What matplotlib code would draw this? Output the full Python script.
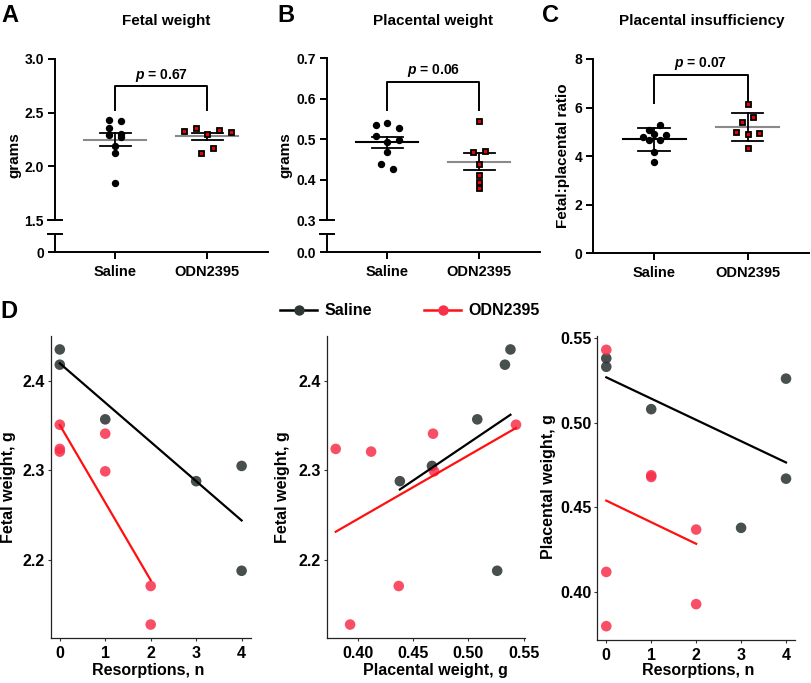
import numpy as np
import matplotlib
matplotlib.use("Agg")
import matplotlib.pyplot as plt
import matplotlib.transforms as mtransforms
from matplotlib.lines import Line2D

# ---------------- data ----------------
groups = ["Saline", "ODN2395"]
fetal_saline = [2.432, 2.420, 2.357, 2.289, 2.270, 2.304, 2.192, 2.124, 1.842]
fetal_odn = [2.329, 2.354, 2.301, 2.341, 2.323, 2.127, 2.171]
plac_saline = [0.534, 0.539, 0.527, 0.508, 0.494, 0.498, 0.468, 0.439, 0.425]
plac_odn = [0.544, 0.469, 0.470, 0.438, 0.411, 0.395, 0.380]
ratio_saline = [5.07, 5.27, 4.77, 4.93, 4.87, 4.66, 4.66, 4.18, 3.77]
ratio_odn = [6.16, 5.41, 5.61, 5.00, 4.90, 4.96, 4.32]
p_values = ["0.67", "0.06", "0.07"]

sal_resorptions = [0, 0, 1, 3, 4, 4]
sal_fetal = [2.435, 2.418, 2.357, 2.288, 2.305, 2.188]
sal_placental = [0.538, 0.533, 0.508, 0.438, 0.467, 0.526]
odn_resorptions = [0, 0, 0, 1, 1, 2, 2]
odn_fetal = [2.351, 2.324, 2.321, 2.341, 2.299, 2.171, 2.128]
odn_placental = [0.543, 0.380, 0.412, 0.468, 0.469, 0.437, 0.393]

# ---------------- style ----------------
plt.rcParams["font.family"] = ["Liberation Sans", "DejaVu Sans"]
plt.rcParams["mathtext.fontset"] = "custom"
plt.rcParams["mathtext.bfit"] = "Liberation Sans:italic:bold"
plt.rcParams["mathtext.rm"] = "Liberation Sans:bold"

W, H = 812, 683
fig = plt.figure(figsize=(W / 100, H / 100), dpi=100)


def fx(x):
    return x / W


def fy(y):
    return 1 - y / H


def px_axes(l, t, r, b):
    return fig.add_axes([l / W, 1 - b / H, (r - l) / W, (b - t) / H])


SPW = 1.4
XLIM = (-0.655, 1.66)
RED = "#EE0000"
GRAY = "#8A8A8A"


def style_top(ax, ylim, yticks, ylabels):
    ax.set_xlim(*XLIM)
    ax.set_ylim(*ylim)
    for s in ["top", "right", "bottom"]:
        ax.spines[s].set_visible(False)
    ax.spines["left"].set_linewidth(SPW)
    ax.set_xticks([])
    ax.set_yticks(yticks)
    ax.set_yticklabels(ylabels)
    ax.tick_params(axis="y", length=5, width=SPW, pad=3, labelsize=10)
    for t in ax.get_yticklabels():
        t.set_fontweight("bold")
    ax.patch.set_alpha(0)


def style_bottom(ax, zero_label):
    ax.set_xlim(*XLIM)
    ax.set_ylim(0, 1)
    for s in ["top", "right"]:
        ax.spines[s].set_visible(False)
    ax.spines["left"].set_linewidth(SPW)
    ax.spines["bottom"].set_linewidth(SPW)
    ax.set_yticks([0])
    ax.set_yticklabels([zero_label])
    ax.set_xticks([0, 1])
    ax.set_xticklabels(groups)
    ax.tick_params(axis="y", length=5, width=SPW, pad=3, labelsize=10)
    ax.tick_params(axis="x", length=5, width=SPW, pad=4, labelsize=10.5)
    for t in ax.get_yticklabels() + ax.get_xticklabels():
        t.set_fontweight("bold")
    ax.patch.set_alpha(0)


def cap(ax, yval):
    tr = mtransforms.blended_transform_factory(ax.transAxes, ax.transData)
    wpx = ax.get_position().width * W
    d = 7 / wpx
    ax.plot([-d, d], [yval, yval], transform=tr, clip_on=False, color="black", lw=SPW)


def swarm(vals, ax, spacing_px=11.65, row_tol_px=5.8):
    v = np.asarray(vals, dtype=float)
    ypx = ax.transData.transform(np.column_stack([np.zeros(len(v)), v]))[:, 1]
    ppu = ax.transData.transform([[1, 0]])[0, 0] - ax.transData.transform([[0, 0]])[0, 0]
    order = np.argsort(-v, kind="stable")
    rows = []
    for i in order:
        if rows and (ypx[rows[-1][0]] - ypx[i]) <= row_tol_px:
            rows[-1].append(i)
        else:
            rows.append([i])
    offs = np.zeros(len(v))
    for r in rows:
        rs = sorted(r)
        n = len(rs)
        for k, i in enumerate(rs):
            offs[i] = (k - (n - 1) / 2) * spacing_px / ppu
    return offs


def dot_groups(ax, vals_list, err_kind, mean_colors):
    for i, vals in enumerate(vals_list):
        v = np.asarray(vals, dtype=float)
        offs = swarm(v, ax)
        m = v.mean()
        sd = v.std(ddof=1)
        e = sd / np.sqrt(len(v)) if err_kind == "sem" else sd
        ax.plot([i - 0.335, i + 0.335], [m, m], color=mean_colors[i], lw=1.5, zorder=2, clip_on=False)
        ax.plot([i, i], [m - e, m + e], color="black", lw=1.3, zorder=2)
        for yy in (m - e, m + e):
            ax.plot([i - 0.17, i + 0.17], [yy, yy], color="black", lw=1.3, zorder=2)
        if i == 0:
            ax.plot(i + offs, v, ls="none", marker="o", ms=4.3, color="black", zorder=3, clip_on=False)
        else:
            ax.plot(i + offs, v, ls="none", marker="s", ms=3.6, mfc=RED, mec="black", mew=1.3,
                    zorder=3, clip_on=False)


def bracket(ax, leg, top, ytext, p):
    ax.plot([0, 0, 1, 1], [leg, top, top, leg], color="black", lw=SPW, clip_on=False)
    ax.text(0.5, ytext, r"$\mathbfit{p}$ = " + p, ha="center", va="center",
            fontsize=10, fontweight="bold", clip_on=False)


# ---------------- Panel A ----------------
axA = px_axes(55, 59, 268, 220)
axA0 = px_axes(55, 234, 268, 252.3)
style_top(axA, (1.5, 3.0), [1.5, 2.0, 2.5, 3.0], ["1.5", "2.0", "2.5", "3.0"])
style_bottom(axA0, "0")
cap(axA, 1.5)
cap(axA0, 1)
dot_groups(axA, [fetal_saline, fetal_odn], "sem", [GRAY, GRAY])
bracket(axA, 2.525, 2.748, 2.85, p_values[0])

# ---------------- Panel B ----------------
axB = px_axes(327, 58.3, 540, 220)
axB0 = px_axes(327, 234, 540, 252.3)
style_top(axB, (0.3, 0.7), [0.3, 0.4, 0.5, 0.6, 0.7], ["0.3", "0.4", "0.5", "0.6", "0.7"])
style_bottom(axB0, "0.0")
cap(axB, 0.3)
cap(axB0, 1)
dot_groups(axB, [plac_saline, plac_odn], "sem", ["black", GRAY])
bracket(axB, 0.572, 0.642, 0.669, p_values[1])

# ---------------- Panel C ----------------
axC = px_axes(593.3, 59, 809, 253.3)
axC.set_xlim(*XLIM)
axC.set_ylim(0, 8)
for s in ["top", "right"]:
    axC.spines[s].set_visible(False)
axC.spines["left"].set_linewidth(SPW)
axC.spines["bottom"].set_linewidth(SPW)
axC.set_yticks([0, 2, 4, 6, 8])
axC.set_xticks([0, 1])
axC.set_xticklabels(groups)
axC.tick_params(axis="y", length=5, width=SPW, pad=3, labelsize=10)
axC.tick_params(axis="x", length=5, width=SPW, pad=4, labelsize=10.5)
for t in axC.get_yticklabels() + axC.get_xticklabels():
    t.set_fontweight("bold")
axC.patch.set_alpha(0)
dot_groups(axC, [ratio_saline, ratio_odn], "sd", ["black", GRAY])
bracket(axC, 6.19, 7.33, 7.83, p_values[2])

# titles, letters, y labels (top row)
for x, t in [(165.7, "Fetal weight"), (433.3, "Placental weight"), (701.7, "Placental insufficiency")]:
    fig.text(fx(x), fy(20.7), t, ha="center", va="center", fontsize=11, fontweight="bold")
for x, y, t in [(1, 15, "A"), (277, 15, "B"), (542, 15, "C"), (0, 311, "D")]:
    fig.text(fx(x), fy(y), t, ha="left", va="center", fontsize=17, fontweight="bold")
fig.text(fx(14), fy(155), "grams", rotation=90, ha="center", va="center", fontsize=11, fontweight="bold")
fig.text(fx(285), fy(155), "grams", rotation=90, ha="center", va="center", fontsize=11, fontweight="bold")
fig.text(fx(563), fy(156), "Fetal:placental ratio", rotation=90, ha="center", va="center",
         fontsize=11, fontweight="bold")

# ---------------- Panel D ----------------
SAL_PT = "#2E3636"
ODN_PT = "#F7304C"
SAL_LN = "black"
ODN_LN = "#FF1010"


def d_panel(ax, xs, ys, xo, yo, xticks, xlabels, yticks, ylabels):
    ax.scatter(xs, ys, s=58, color=SAL_PT, alpha=0.88, edgecolors="none", zorder=2)
    ax.scatter(xo, yo, s=58, color=ODN_PT, alpha=0.85, edgecolors="none", zorder=2)
    for x, y, c in [(xs, ys, SAL_LN), (xo, yo, ODN_LN)]:
        coef = np.polyfit(x, y, 1)
        xx = np.array([min(x), max(x)])
        ax.plot(xx, np.polyval(coef, xx), color=c, lw=1.6, zorder=3)
    ax.margins(0.05)
    for s in ["top", "right"]:
        ax.spines[s].set_visible(False)
    for s in ["left", "bottom"]:
        ax.spines[s].set_linewidth(0.9)
        ax.spines[s].set_color("#222222")
    ax.set_xticks(xticks)
    ax.set_xticklabels(xlabels)
    ax.set_yticks(yticks)
    ax.set_yticklabels(ylabels)
    ax.tick_params(axis="both", length=2.5, width=0.8, color="#333333", labelsize=11.5)
    ax.tick_params(axis="x", pad=3)
    ax.tick_params(axis="y", pad=1.5)
    for t in ax.get_yticklabels() + ax.get_xticklabels():
        t.set_fontweight("bold")


axD1 = px_axes(50.7, 335.7, 250.7, 638.3)
d_panel(axD1, sal_resorptions, sal_fetal, odn_resorptions, odn_fetal,
        [0, 1, 2, 3, 4], ["0", "1", "2", "3", "4"], [2.2, 2.3, 2.4], ["2.2", "2.3", "2.4"])
axD2 = px_axes(326.7, 335.7, 525, 638.3)
d_panel(axD2, sal_placental, sal_fetal, odn_placental, odn_fetal,
        [0.40, 0.45, 0.50, 0.55], ["0.40", "0.45", "0.50", "0.55"], [2.2, 2.3, 2.4], ["2.2", "2.3", "2.4"])
axD3 = px_axes(597.3, 336, 795, 640)
d_panel(axD3, sal_resorptions, sal_placental, odn_resorptions, odn_placental,
        [0, 1, 2, 3, 4], ["0", "1", "2", "3", "4"], [0.40, 0.45, 0.50, 0.55], ["0.40", "0.45", "0.50", "0.55"])

for x, t in [(9, "Fetal weight, g"), (282.5, "Fetal weight, g"), (549, "Placental weight, g")]:
    fig.text(fx(x), fy(487), t, rotation=90, ha="center", va="center", fontsize=11.5, fontweight="bold")
for x, t in [(148, "Resorptions, n"), (435.5, "Placental weight, g"), (698, "Resorptions, n")]:
    fig.text(fx(x), fy(670), t, ha="center", va="center", fontsize=11.5, fontweight="bold")

handles = [
    Line2D([0], [0], color=SAL_LN, lw=1.8, marker="o", ms=7.5, mfc=SAL_PT, mec="none"),
    Line2D([0], [0], color=ODN_LN, lw=1.8, marker="o", ms=7.5, mfc=ODN_PT, mec="none"),
]
fig.legend(handles, groups, loc="center", bbox_to_anchor=(fx(410), fy(310.7)), ncol=2, frameon=False,
           prop={"weight": "bold", "size": 11.5}, handlelength=2.3, handletextpad=0.45,
           columnspacing=3.3, borderaxespad=0, borderpad=0)

fig.savefig("out.png", dpi=100)
